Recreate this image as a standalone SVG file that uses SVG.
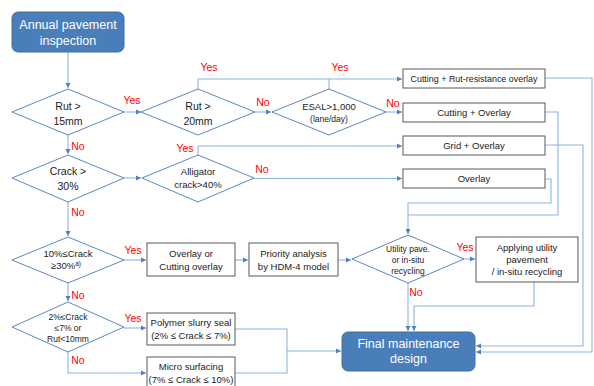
<svg xmlns="http://www.w3.org/2000/svg" width="594" height="386" viewBox="0 0 594 386">
<defs>
<marker id="arr" markerWidth="6" markerHeight="6" refX="5" refY="3" orient="auto" markerUnits="userSpaceOnUse">
<path d="M0,0.5 L5,3 L0,5.5 Z" fill="#4f81bd"/>
</marker>
<style>
text{font-family:"Liberation Sans",Arial,sans-serif;fill:#1a1a1a;text-anchor:middle}
.dia{fill:#fff;stroke:#5b87c0;stroke-width:1}
.box{fill:#fff;stroke:#595959;stroke-width:1}
.term{fill:#4a7ebb;stroke:#41719c;stroke-width:1}
.wt{fill:#fff;font-size:12.5px}
.t10{font-size:10.5px}
.t9{font-size:9.5px}
.t8{font-size:8.5px}
.lbl{fill:#ff0000;font-size:10.5px}
.con{fill:none;stroke:#8db3e2;stroke-width:1.1}
</style>
</defs>
<rect width="594" height="386" fill="#fff"/>

<g id="connectors">
<path class="con" d="M68,52 V88" marker-end="url(#arr)"/>
<path class="con" d="M124,112 H141" marker-end="url(#arr)"/>
<path class="con" d="M68,135 V154" marker-end="url(#arr)"/>
<path class="con" d="M255,112 H271" marker-end="url(#arr)"/>
<path class="con" d="M198,89 V79 H402" marker-end="url(#arr)"/>
<path class="con" d="M329,89 V79"/>
<path class="con" d="M385,112 H402" marker-end="url(#arr)"/>
<path class="con" d="M124,178 H141" marker-end="url(#arr)"/>
<path class="con" d="M198,155 V146 H402" marker-end="url(#arr)"/>
<path class="con" d="M254,178.5 H402" marker-end="url(#arr)"/>
<path class="con" d="M68,202 V236" marker-end="url(#arr)"/>
<path class="con" d="M124,260 H146" marker-end="url(#arr)"/>
<path class="con" d="M235,260 H248" marker-end="url(#arr)"/>
<path class="con" d="M338,260 H351" marker-end="url(#arr)"/>
<path class="con" d="M464,259 H475" marker-end="url(#arr)"/>
<path class="con" d="M408,283 V331" marker-end="url(#arr)"/>
<path class="con" d="M534,282 V306 H414 V331" marker-end="url(#arr)"/>
<path class="con" d="M545,179 H551 V203 H408 V234" marker-end="url(#arr)"/>
<path class="con" d="M545,112 H558 V215 H408"/>
<path class="con" d="M545,145 H583 V346 H476" marker-end="url(#arr)"/>
<path class="con" d="M545,78 H592 V352 H476" marker-end="url(#arr)"/>
<path class="con" d="M68,283 V301" marker-end="url(#arr)"/>
<path class="con" d="M124,328 H146" marker-end="url(#arr)"/>
<path class="con" d="M68,352 V373 H146" marker-end="url(#arr)"/>
<path class="con" d="M235,329 H287 V373 H235"/>
<path class="con" d="M287,351 H341" marker-end="url(#arr)"/>
<text class="lbl" x="132" y="104">Yes</text>
<text class="lbl" x="78" y="150">No</text>
<text class="lbl" x="263" y="106">No</text>
<text class="lbl" x="209" y="71">Yes</text>
<text class="lbl" x="340" y="71">Yes</text>
<text class="lbl" x="393" y="107">No</text>
<text class="lbl" x="185" y="152">Yes</text>
<text class="lbl" x="262" y="173">No</text>
<text class="lbl" x="78" y="216">No</text>
<text class="lbl" x="133" y="254">Yes</text>
<text class="lbl" x="465" y="251">Yes</text>
<text class="lbl" x="416" y="296">No</text>
<text class="lbl" x="78" y="299">No</text>
<text class="lbl" x="133" y="322">Yes</text>
<text class="lbl" x="78" y="364">No</text>
</g>

<g id="start">
<rect class="term" x="12" y="12" width="112" height="40" rx="6"/>
<text class="wt" x="68" y="29">Annual pavement</text>
<text class="wt" x="68" y="45">inspection</text>
</g>

<g id="rut15">
<polygon class="dia" points="68,89 124,112 68,135 12,112"/>
<text class="t10" x="68" y="110">Rut &gt;</text>
<text class="t10" x="68" y="125">15mm</text>
</g>

<g id="rut20">
<polygon class="dia" points="198,89 255,112 198,135 141,112"/>
<text class="t10" x="198" y="110">Rut &gt;</text>
<text class="t10" x="198" y="125">20mm</text>
</g>

<g id="esal">
<polygon class="dia" points="329,89 386,112 329,135 272,112"/>
<text class="t9" x="329" y="110">ESAL&gt;1,000</text>
<text class="t8" x="329" y="122">(lane/day)</text>
</g>

<g id="crack30">
<polygon class="dia" points="68,155 124,178 68,202 12,178"/>
<text class="t10" x="68" y="175">Crack &gt;</text>
<text class="t10" x="68" y="190">30%</text>
</g>

<g id="alligator">
<polygon class="dia" points="198,155 254,178 198,202 142,178"/>
<text class="t9" x="198" y="175">Alligator</text>
<text class="t9" x="198" y="188">crack&gt;40%</text>
</g>

<g id="crack10_30">
<polygon class="dia" points="68,237 124,260 68,283 12,260"/>
<text class="t9" x="68" y="257">10%≤Crack</text>
<text class="t9" x="66" y="269">≥30%<tspan font-size="6.5" dy="-3">a)</tspan></text>
</g>

<g id="crack2_7">
<polygon class="dia" points="68,302 124,327 68,352 12,327"/>
<text class="t8" x="68" y="320">2%≤Crack</text>
<text class="t8" x="68" y="331">≤7% or</text>
<text class="t8" x="68" y="342">Rut&lt;10mm</text>
</g>

<g id="utility">
<polygon class="dia" points="408,235 464,259 408,283 352,259"/>
<text class="t8" x="408" y="252">Utility pave.</text>
<text class="t8" x="408" y="263">or in-situ</text>
<text class="t8" x="408" y="274">recycling</text>
</g>

<g id="cut_rut">
<rect class="box" x="403" y="69" width="142" height="19"/>
<text class="t9" x="474" y="82" textLength="127" lengthAdjust="spacingAndGlyphs">Cutting + Rut-resistance overlay</text>
</g>

<g id="cut_overlay">
<rect class="box" x="403" y="103" width="142" height="19"/>
<text class="t9" x="474" y="116">Cutting + Overlay</text>
</g>

<g id="grid_overlay">
<rect class="box" x="403" y="136" width="142" height="19"/>
<text class="t9" x="474" y="149">Grid + Overlay</text>
</g>

<g id="overlay">
<rect class="box" x="403" y="169" width="142" height="19"/>
<text class="t9" x="474" y="182">Overlay</text>
</g>

<g id="overlay_cut">
<rect class="box" x="147" y="243" width="88" height="33"/>
<text class="t9" x="191" y="257">Overlay or</text>
<text class="t9" x="191" y="270">Cutting overlay</text>
</g>

<g id="priority">
<rect class="box" x="249" y="243" width="89" height="33"/>
<text class="t9" x="293.5" y="257">Priority analysis</text>
<text class="t9" x="293.5" y="270">by HDM-4 model</text>
</g>

<g id="applying">
<rect class="box" x="476" y="237" width="102" height="45"/>
<text class="t9" x="527" y="251">Applying utility</text>
<text class="t9" x="527" y="263">pavement</text>
<text class="t9" x="527" y="275">/ in-situ recycling</text>
</g>

<g id="polymer">
<rect class="box" x="147" y="313" width="88" height="32"/>
<text class="t9" x="191" y="326">Polymer slurry seal</text>
<text class="t9" x="191" y="339">(2% ≤ Crack ≤ 7%)</text>
</g>

<g id="micro">
<rect class="box" x="147" y="357" width="88" height="30"/>
<text class="t9" x="191" y="370">Micro surfacing</text>
<text class="t9" x="191" y="383">(7% ≤ Crack ≤ 10%)</text>
</g>

<g id="final">
<rect class="term" x="342" y="332" width="133" height="39" rx="6"/>
<text class="wt" x="408.5" y="348">Final maintenance</text>
<text class="wt" x="408.5" y="363">design</text>
</g>
</svg>
